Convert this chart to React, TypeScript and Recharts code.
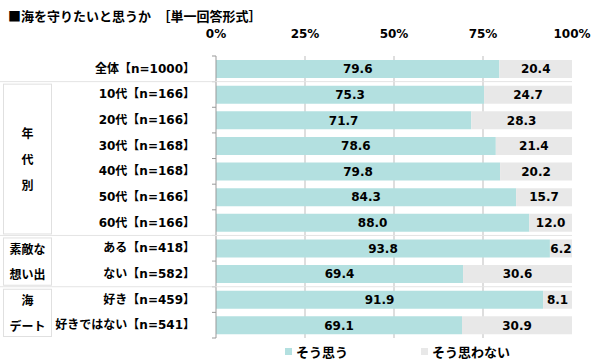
import React from 'react';
import { BarChart, Bar, XAxis, YAxis, CartesianGrid, LabelList } from 'recharts';

const title = '■海を守りたいと思うか　［単一回答形式］';
const categories = [
  '全体【n=1000】',
  '10代【n=166】',
  '20代【n=166】',
  '30代【n=168】',
  '40代【n=168】',
  '50代【n=166】',
  '60代【n=166】',
  'ある【n=418】',
  'ない【n=582】',
  '好き【n=459】',
  '好きではない【n=541】',
];
const agree = [79.6, 75.3, 71.7, 78.6, 79.8, 84.3, 88.0, 93.8, 69.4, 91.9, 69.1];
const disagree = [20.4, 24.7, 28.3, 21.4, 20.2, 15.7, 12.0, 6.2, 30.6, 8.1, 30.9];
const seriesNames = ['そう思う', 'そう思わない'];
const seriesColors = ['#B3E0E0', '#E8E8E8'];
const xTicks = [0, 25, 50, 75, 100];
const groups = [
  { lines: ['年', '代', '別'], start: 1, end: 6 },
  { lines: ['素敵な', '想い出'], start: 7, end: 8 },
  { lines: ['海', 'デート'], start: 9, end: 10 },
];

const data = categories.map((c, i) => ({ label: c, agree: agree[i], disagree: disagree[i] }));

const FONT = '"DejaVu Sans", "Noto Sans CJK JP", sans-serif';
const JFONT = '"Noto Sans CJK JP", sans-serif';

const W = 600;
const H = 362;
const M = { top: 26, right: 28, bottom: 24, left: 0 };
const YW = 216;
const plotRight = W - M.right;

function XTick(props: any) {
  const { x, payload } = props;
  return (
    <text x={x} y={38} textAnchor="middle" fontFamily={FONT} fontWeight="bold" fontSize={12} fill="#000">
      {`${payload.value}%`}
    </text>
  );
}

function YTick(props: any) {
  const { y, payload, index } = props;
  const idx = payload?.index ?? index;
  const half = payload?.offset ?? 12.8;
  const axisX = YW + M.left;
  const els: any[] = [];
  els.push(<line key="tk" x1={axisX - 4} x2={axisX} y1={y - half} y2={y - half} stroke="#999" />);
  if (idx === categories.length - 1) {
    els.push(<line key="tkb" x1={axisX - 4} x2={axisX} y1={y + half} y2={y + half} stroke="#999" />);
  }
  const g = groups.find((gr) => gr.start === idx);
  if (g) {
    const n = g.end - g.start + 1;
    const top = y - half;
    const h = n * 2 * half;
    els.push(<line key="sep" x1={0} x2={plotRight} y1={top} y2={top} stroke="#E4E4E4" />);
    els.push(
      <rect key="box" x={3.5} y={top + 2.5} width={48} height={h - 4} fill="none" stroke="#E0E0E0" />
    );
    const yc = top + h / 2;
    const step = 2 * half;
    g.lines.forEach((ln, k) => {
      const ly = yc + (k - (g.lines.length - 1) / 2) * step;
      els.push(
        <text key={'g' + k} x={27.5} y={ly} textAnchor="middle" dominantBaseline="central"
          fontFamily={JFONT} fontWeight="bold" fontSize={12} fill="#000">{ln}</text>
      );
    });
  }
  els.push(
    <text key="lab" x={195} y={y} textAnchor="end" dominantBaseline="central"
      fontFamily={FONT} fontWeight="bold" fontSize={12} fill="#000">{payload.value}</text>
  );
  return <g>{els}</g>;
}

export default function App() {
  return (
    <div style={{ position: 'absolute', left: 0, top: 0, width: W, height: H, background: '#fff' }}>
      <div style={{ position: 'absolute', left: 8, top: 6, fontFamily: JFONT, fontWeight: 'bold', fontSize: 13, color: '#000', whiteSpace: 'pre' }}>
        {title}
      </div>
      <BarChart width={W} height={H} data={data} layout="vertical" margin={M} barSize={18}>
        <CartesianGrid horizontal={false} vertical={true} stroke="#BDBDBD" verticalValues={[25, 50, 75]} />
        <XAxis type="number" orientation="top" domain={[0, 100]} ticks={xTicks} height={30}
          axisLine={false} tickLine={false} tick={<XTick />} />
        <YAxis type="category" dataKey="label" width={YW} interval={0}
          axisLine={{ stroke: '#999' }} tickLine={false} tick={<YTick />} />
        <Bar dataKey="agree" name={seriesNames[0]} stackId="a" fill={seriesColors[0]} isAnimationActive={false}>
          <LabelList dataKey="agree" position="center" formatter={(v: any) => Number(v).toFixed(1)}
            style={{ fontFamily: FONT, fontWeight: 'bold', fontSize: 12, fill: '#000' }} />
        </Bar>
        <Bar dataKey="disagree" name={seriesNames[1]} stackId="a" fill={seriesColors[1]} isAnimationActive={false}>
          <LabelList dataKey="disagree" position="center" formatter={(v: any) => Number(v).toFixed(1)}
            style={{ fontFamily: FONT, fontWeight: 'bold', fontSize: 12, fill: '#000' }} />
        </Bar>
      </BarChart>
      {seriesNames.map((nm, i) => (
        <div key={nm} style={{ position: 'absolute', left: i === 0 ? 285 : 421, top: 342, display: 'flex', alignItems: 'center', fontFamily: JFONT, fontWeight: 'bold', fontSize: 13, color: '#000' }}>
          <span style={{ display: 'inline-block', width: 7, height: 7, background: seriesColors[i], marginRight: 4 }} />
          <span>{nm}</span>
        </div>
      ))}
    </div>
  );
}
